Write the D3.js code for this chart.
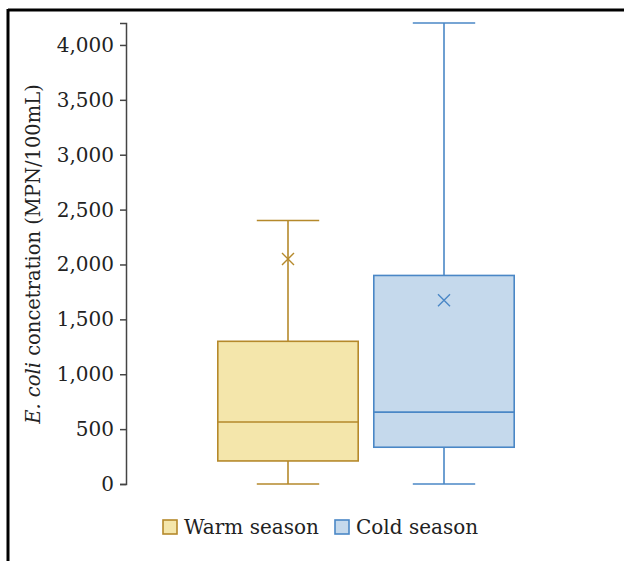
<!DOCTYPE html>
<html><head><meta charset="utf-8">
<script src="https://cdn.jsdelivr.net/npm/d3@7/dist/d3.min.js"></script>
<style>
body{margin:0;background:#fff;}
text{font-family:"DejaVu Serif",serif;}
</style></head>
<body><svg id="c" width="624" height="561"></svg>
<script>
const categories = ["Warm season", "Cold season"];
const whiskerLow = [0, 0];
const q1Values = [210, 335];
const medianValues = [565, 655];
const q3Values = [1300, 1900];
const whiskerHigh = [2400, 4200];
const meanValues = [2050, 1675];
const yTicks = [0, 500, 1000, 1500, 2000, 2500, 3000, 3500, 4000];
const fills = ["#f4e6ab", "#c5d9ec"];
const strokes = ["#b5892b", "#4a87c6"];

const svg = d3.select("#c");
// frame
svg.append("line").attr("x1",8).attr("x2",624).attr("y1",10).attr("y2",10).attr("stroke","#000").attr("stroke-width",3);
svg.append("line").attr("x1",8).attr("x2",8).attr("y1",9).attr("y2",561).attr("stroke","#000").attr("stroke-width",3);

const y = d3.scaleLinear().domain([0, 4200]).range([484, 23]);
const x = d3.scaleBand().domain(categories).range([210, 522]).padding(0);

const yAxis = d3.axisLeft(y).tickValues(yTicks).tickFormat(d3.format(",")).tickSizeOuter(0).tickSize(6).tickPadding(6);
const gy = svg.append("g").attr("transform","translate(126,0)").call(yAxis);
gy.select(".domain").attr("stroke","#444").attr("stroke-width",1.5);
gy.selectAll(".tick line").attr("stroke","#444").attr("stroke-width",1.5);
gy.selectAll(".tick text").attr("fill","#222").style("font-size","20px").style("font-family","DejaVu Serif");

// y label
const lab = svg.append("text").attr("transform","translate(40,254) rotate(-90)").attr("text-anchor","middle").attr("fill","#222").style("font-size","19.5px");
lab.append("tspan").style("font-style","italic").text("E. coli");
lab.append("tspan").text(" concetration (MPN/100mL)");

const bw = x.bandwidth()*0.9, cw = x.bandwidth()*0.4;
categories.forEach((c,i)=>{
  const cx = x(c)+x.bandwidth()/2;
  const g = svg.append("g").attr("stroke",strokes[i]).attr("stroke-width",1.6);
  g.append("line").attr("x1",cx).attr("x2",cx).attr("y1",y(whiskerHigh[i])).attr("y2",y(q3Values[i]));
  g.append("line").attr("x1",cx).attr("x2",cx).attr("y1",y(q1Values[i])).attr("y2",y(whiskerLow[i]));
  g.append("line").attr("x1",cx-cw/2).attr("x2",cx+cw/2).attr("y1",y(whiskerHigh[i])).attr("y2",y(whiskerHigh[i]));
  g.append("line").attr("x1",cx-cw/2).attr("x2",cx+cw/2).attr("y1",y(whiskerLow[i])).attr("y2",y(whiskerLow[i]));
  g.append("rect").attr("x",cx-bw/2).attr("width",bw).attr("y",y(q3Values[i])).attr("height",y(q1Values[i])-y(q3Values[i])).attr("fill",fills[i]);
  g.append("line").attr("x1",cx-bw/2).attr("x2",cx+bw/2).attr("y1",y(medianValues[i])).attr("y2",y(medianValues[i]));
  const my = y(meanValues[i]), s=6;
  g.append("path").attr("d",`M${cx-s},${my-s}L${cx+s},${my+s}M${cx-s},${my+s}L${cx+s},${my-s}`).attr("stroke-width",1.4);
});

// legend
const legX = [163, 335];
categories.forEach((c,i)=>{
  svg.append("rect").attr("x",legX[i]).attr("y",520).attr("width",14).attr("height",14).attr("fill",fills[i]).attr("stroke",strokes[i]).attr("stroke-width",1.6);
  svg.append("text").attr("x",legX[i]+21).attr("y",534).attr("fill","#222").style("font-size","20px").text(c);
});
</script></body></html>
